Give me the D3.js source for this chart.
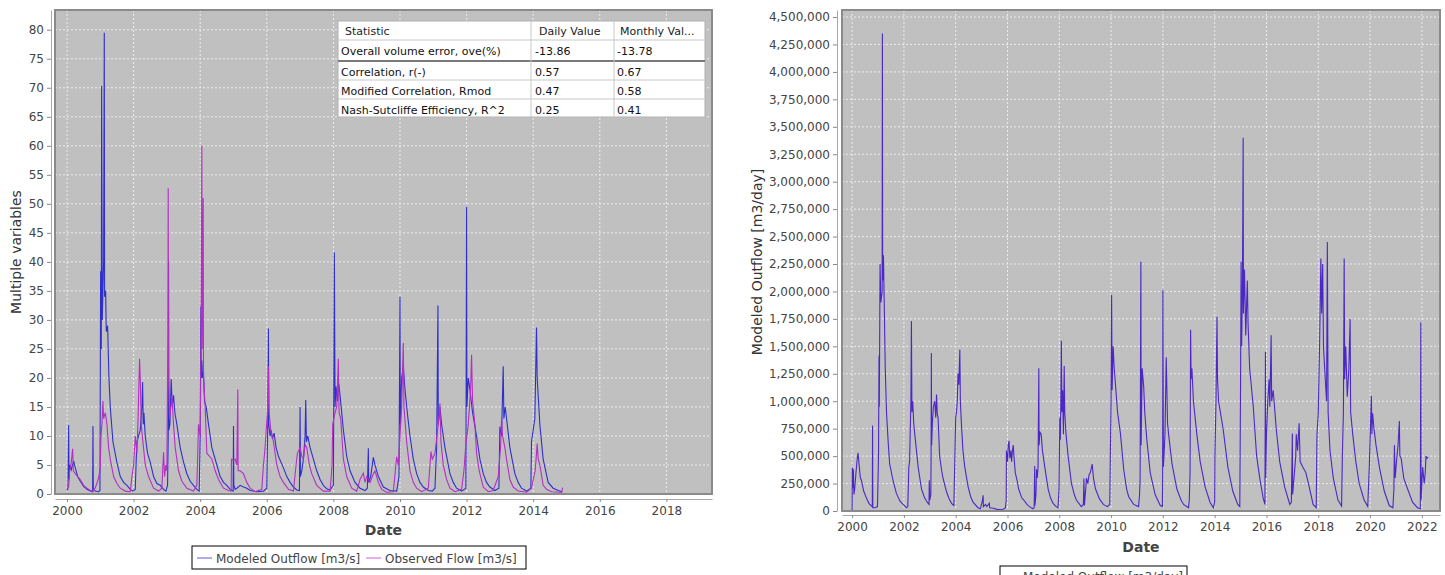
<!DOCTYPE html>
<html><head><meta charset="utf-8">
<script src="https://cdn.jsdelivr.net/npm/d3@7"></script>
<style>
body{margin:0;background:#fff;overflow:hidden}
svg{display:block}
text{font-family:"DejaVu Sans",Verdana,sans-serif}
</style>
</head><body>
<svg id="c" width="1445" height="575"></svg>
<script>
// ---------- DATA ----------
const leftYearTicks = [2000,2002,2004,2006,2008,2010,2012,2014,2016,2018];
const leftValueTicks = [0,5,10,15,20,25,30,35,40,45,50,55,60,65,70,75,80];
const rightYearTicks = [2000,2002,2004,2006,2008,2010,2012,2014,2016,2018,2020,2022];
const rightValueTicks = [0,250000,500000,750000,1000000,1250000,1500000,1750000,2000000,2250000,2500000,2750000,3000000,3250000,3500000,3750000,4000000,4250000,4500000];

// Modeled outflow [m3/s] : [decimal year, value]
const modeledFlow = [
[2000.00,0.6],[2000.03,1.0],[2000.05,11.9],[2000.06,2.5],[2000.09,5.0],[2000.13,4.2],[2000.20,5.7],[2000.25,4.5],[2000.32,3.0],[2000.40,2.2],[2000.50,1.3],[2000.60,0.8],[2000.70,0.5],[2000.77,0.4],[2000.78,11.7],[2000.79,1.0],[2000.85,0.5],[2000.95,0.4],[2000.99,0.6],
[2001.01,38.4],[2001.03,25],[2001.04,70.3],[2001.06,30],[2001.10,40],[2001.12,79.5],[2001.13,34],[2001.16,35],[2001.18,28],[2001.22,29],[2001.26,20],[2001.30,15],[2001.38,9],[2001.50,5.4],[2001.60,3],[2001.70,2],[2001.80,1.5],[2001.90,0.8],[2001.98,0.5],
[2002.05,0.8],[2002.08,6],[2002.10,9],[2002.15,10],[2002.20,11],[2002.25,15],[2002.27,19.3],[2002.29,12],[2002.31,14],[2002.35,10],[2002.42,7],[2002.50,5.5],[2002.60,3],[2002.70,1.8],[2002.80,1.5],[2002.90,0.8],[2002.97,0.5],
[2003.02,1.5],[2003.04,10],[2003.05,40],[2003.06,11],[2003.09,12],[2003.11,16],[2003.13,19.8],[2003.16,15],[2003.20,17],[2003.24,14],[2003.30,12],[2003.40,8],[2003.50,5.5],[2003.60,3.5],[2003.70,2.2],[2003.80,1.5],[2003.90,0.8],[2003.97,0.5],
[2004.00,10],[2004.02,32.3],[2004.03,20],[2004.05,23],[2004.07,20],[2004.10,21],[2004.13,16],[2004.18,15],[2004.25,12],[2004.35,8],[2004.50,5],[2004.60,3],[2004.70,2],[2004.80,1.5],[2004.90,0.8],[2004.99,0.5],
[2005.00,11.7],[2005.01,1.5],[2005.05,0.8],[2005.10,1.0],[2005.20,1.5],[2005.30,1.2],[2005.40,1.0],[2005.50,0.6],[2005.70,0.4],[2005.90,0.5],[2006.00,1],
[2006.03,12],[2006.05,28.5],[2006.06,12],[2006.10,10],[2006.13,11],[2006.17,9.5],[2006.22,10.5],[2006.28,8],[2006.35,6.5],[2006.50,4.5],[2006.60,3],[2006.70,2],[2006.80,1.2],[2006.90,0.7],[2006.98,0.6],
[2007.00,15],[2007.01,3],[2007.05,4],[2007.10,6],[2007.15,10],[2007.17,16.2],[2007.19,9],[2007.23,10],[2007.30,8],[2007.40,6],[2007.50,4],[2007.60,2.5],[2007.70,1.5],[2007.80,0.9],[2007.90,0.7],[2008.00,1.5],
[2008.03,41.6],[2008.05,15],[2008.08,18.5],[2008.12,16],[2008.16,19],[2008.20,17],[2008.30,11],[2008.40,6.5],[2008.50,4],[2008.65,2],[2008.80,1],[2008.95,0.6],
[2009.02,1],[2009.05,7.9],[2009.06,2],[2009.12,3],[2009.20,6.3],[2009.25,5],[2009.35,3],[2009.50,1.2],[2009.70,0.6],[2009.90,0.5],[2009.97,3],
[2010.00,34],[2010.01,12],[2010.05,20],[2010.10,22],[2010.15,18],[2010.22,14],[2010.30,10],[2010.40,6],[2010.50,3.5],[2010.60,2],[2010.70,1.2],[2010.85,0.6],[2010.97,0.5],
[2011.05,1],[2011.10,8],[2011.14,32.5],[2011.15,12],[2011.20,15],[2011.25,12],[2011.35,8],[2011.50,3.5],[2011.60,2],[2011.70,1],[2011.85,0.5],[2011.98,1],
[2012.00,49.5],[2012.01,15],[2012.05,20],[2012.10,18],[2012.18,14],[2012.30,10],[2012.40,6],[2012.50,3.5],[2012.60,2],[2012.70,1.2],[2012.85,0.6],[2012.97,1],
[2013.00,11.6],[2013.05,10],[2013.10,22],[2013.12,13],[2013.16,15],[2013.22,12],[2013.30,8],[2013.45,3.5],[2013.55,2],[2013.65,1],[2013.80,0.5],[2013.93,1],
[2013.95,9],[2014.00,11],[2014.05,13],[2014.10,28.7],[2014.12,20],[2014.15,17],[2014.20,12],[2014.30,6],[2014.45,2],[2014.60,1],[2014.75,0.6],[2014.87,0.4]
];

// Observed flow [m3/s]
const observedFlow = [
[2000.00,1.3],[2000.05,1.2],[2000.08,4],[2000.12,5],[2000.17,7.8],[2000.19,4],[2000.25,3.5],[2000.32,3],[2000.40,2.5],[2000.50,1.5],[2000.60,1],[2000.70,0.6],[2000.80,0.5],[2000.88,1.5],[2000.95,2.8],[2001.00,4.5],
[2001.02,10],[2001.05,12],[2001.08,16],[2001.10,13],[2001.15,14],[2001.20,12],[2001.25,8],[2001.30,6],[2001.40,3],[2001.50,1.8],[2001.60,1],[2001.75,0.5],[2001.90,0.4],[2001.95,3],[2002.00,5],
[2002.05,10],[2002.10,7],[2002.13,12],[2002.18,23.3],[2002.20,20],[2002.23,12],[2002.28,9],[2002.35,5],[2002.45,3],[2002.60,1],[2002.75,0.5],[2002.85,1],[2002.90,7.2],[2002.93,3],[2002.97,5],
[2003.00,4],[2003.03,28],[2003.04,52.7],[2003.05,20],[2003.08,13],[2003.12,15],[2003.15,17],[2003.20,12],[2003.25,8],[2003.35,4],[2003.45,2.2],[2003.60,1],[2003.80,0.5],[2003.90,1.5],[2003.95,12],
[2004.00,10],[2004.03,30],[2004.05,60],[2004.06,25],[2004.09,51],[2004.10,20],[2004.15,15],[2004.20,7],[2004.28,6.5],[2004.35,6],[2004.45,4],[2004.55,2.5],[2004.70,1],[2004.85,0.6],[2004.93,0.5],[2004.94,6],
[2005.00,5.8],[2005.05,6],[2005.10,5],[2005.13,18],[2005.14,4],[2005.20,4],[2005.30,3.5],[2005.40,2],[2005.50,1],[2005.65,0.4],[2005.85,0.8],[2005.90,5],[2005.95,8],
[2006.00,12.5],[2006.03,15],[2006.05,22],[2006.07,14],[2006.12,11],[2006.20,9],[2006.30,5],[2006.40,3],[2006.50,2],[2006.65,0.8],[2006.80,0.5],[2006.88,5],[2006.92,7],
[2007.00,8],[2007.05,6.5],[2007.10,6],[2007.15,8.5],[2007.20,8],[2007.28,5],[2007.35,3.5],[2007.50,1.5],[2007.70,0.5],[2007.90,0.5],[2007.96,5],
[2007.98,12],[2008.05,14],[2008.10,15],[2008.15,23.3],[2008.17,14],[2008.22,13],[2008.30,6],[2008.40,3],[2008.55,1],[2008.70,0.5],[2008.80,2.5],[2008.90,3.6],[2008.95,2],[2009.00,3],
[2009.10,2],[2009.20,3.5],[2009.25,4],[2009.35,2],[2009.45,0.8],[2009.60,0.3],[2009.80,0.4],[2009.90,6.4],[2009.95,5],
[2010.05,15],[2010.10,26],[2010.12,15],[2010.20,9],[2010.30,4],[2010.40,2],[2010.50,1],[2010.65,0.4],[2010.85,1],[2010.93,7.3],[2010.97,6],
[2011.05,7],[2011.15,12],[2011.20,15.6],[2011.23,9],[2011.30,5],[2011.40,2.5],[2011.50,1],[2011.65,0.4],[2011.85,0.8],[2011.92,4],
[2011.97,8],[2012.05,12],[2012.12,18],[2012.15,24],[2012.18,16],[2012.25,12],[2012.30,7],[2012.38,4],[2012.50,1.2],[2012.65,0.4],[2012.80,0.6],[2012.95,3],
[2013.02,8],[2013.05,13],[2013.08,10],[2013.15,8],[2013.20,6],[2013.30,2.5],[2013.40,1.2],[2013.55,0.5],[2013.80,0.3],[2013.95,1],
[2014.02,3],[2014.06,4],[2014.10,7],[2014.12,8.7],[2014.15,6],[2014.20,5],[2014.30,1.5],[2014.40,0.8],[2014.55,0.4],[2014.80,0.3],[2014.86,0.3],[2014.88,1.1]
];

// Modeled outflow [m3/day]
const modeledOutflowDay = [
[2000.00,10000],[2000.01,396000],[2000.03,210000],[2000.05,380000],[2000.07,150000],[2000.10,200000],[2000.15,350000],[2000.20,480000],[2000.23,530000],[2000.27,420000],[2000.32,300000],[2000.36,280000],[2000.45,180000],[2000.55,120000],[2000.65,70000],[2000.75,45000],[2000.78,40000],[2000.79,778000],[2000.80,30000],[2000.90,30000],[2000.98,40000],
[2001.02,500000],[2001.04,1415000],[2001.05,950000],[2001.07,1800000],[2001.08,2250000],[2001.11,1900000],[2001.16,2000000],[2001.17,4350000],[2001.18,2100000],[2001.21,2330000],[2001.24,1900000],[2001.28,1300000],[2001.33,890000],[2001.40,600000],[2001.45,430000],[2001.58,280000],[2001.71,160000],[2001.85,90000],[2001.97,60000],[2002.10,30000],
[2002.15,40000],[2002.19,400000],[2002.22,450000],[2002.27,1000000],[2002.29,1730000],[2002.31,900000],[2002.34,1000000],[2002.38,800000],[2002.42,700000],[2002.55,400000],[2002.68,200000],[2002.80,120000],[2002.90,80000],[2002.97,60000],
[2002.98,280000],[2003.00,100000],[2003.04,150000],[2003.05,500000],[2003.06,1440000],[2003.07,600000],[2003.10,800000],[2003.14,950000],[2003.19,1000000],[2003.23,850000],[2003.26,1060000],[2003.29,880000],[2003.32,850000],[2003.38,500000],[2003.45,380000],[2003.51,300000],[2003.64,180000],[2003.75,110000],[2003.84,70000],[2003.93,50000],
[2003.96,400000],[2004.00,850000],[2004.03,900000],[2004.06,1000000],[2004.09,1250000],[2004.12,1150000],[2004.16,1470000],[2004.18,1000000],[2004.22,800000],[2004.28,550000],[2004.35,400000],[2004.48,220000],[2004.58,130000],[2004.67,80000],[2004.86,30000],
[2004.95,20000],[2005.02,80000],[2005.06,143000],[2005.07,40000],[2005.15,60000],[2005.20,40000],[2005.30,70000],[2005.31,30000],[2005.45,25000],[2005.60,15000],[2005.80,10000],[2005.92,30000],
[2005.95,100000],[2005.96,550000],[2006.00,450000],[2006.03,600000],[2006.06,640000],[2006.09,480000],[2006.13,550000],[2006.16,450000],[2006.19,550000],[2006.22,600000],[2006.25,500000],[2006.30,350000],[2006.37,280000],[2006.43,200000],[2006.55,120000],[2006.63,100000],[2006.75,60000],[2006.85,40000],[2006.98,20000],
[2007.03,30000],[2007.05,410000],[2007.06,50000],[2007.10,150000],[2007.12,380000],[2007.15,300000],[2007.18,400000],[2007.21,1300000],[2007.22,600000],[2007.25,720000],[2007.30,700000],[2007.35,550000],[2007.44,400000],[2007.57,200000],[2007.66,120000],[2007.76,70000],[2007.88,40000],[2007.95,30000],
[2007.99,200000],[2008.02,850000],[2008.04,650000],[2008.06,1000000],[2008.08,1550000],[2008.10,900000],[2008.13,1100000],[2008.16,700000],[2008.19,1320000],[2008.21,900000],[2008.26,700000],[2008.34,500000],[2008.47,250000],[2008.58,150000],[2008.66,100000],[2008.85,40000],[2008.93,60000],
[2008.95,296000],[2008.97,50000],[2009.02,200000],[2009.05,300000],[2009.10,250000],[2009.15,330000],[2009.20,350000],[2009.27,428000],[2009.32,300000],[2009.40,200000],[2009.55,110000],[2009.70,60000],[2009.85,40000],[2009.95,60000],
[2009.97,500000],[2010.00,1000000],[2010.02,1970000],[2010.04,1100000],[2010.08,1500000],[2010.12,1300000],[2010.17,1150000],[2010.25,900000],[2010.36,707000],[2010.49,373000],[2010.60,200000],[2010.68,130000],[2010.87,60000],[2011.06,40000],
[2011.10,150000],[2011.12,300000],[2011.15,2270000],[2011.16,600000],[2011.20,1300000],[2011.26,1130000],[2011.30,900000],[2011.38,650000],[2011.51,350000],[2011.70,150000],[2011.90,50000],[2011.98,40000],
[2011.99,300000],[2012.00,2010000],[2012.02,400000],[2012.08,700000],[2012.13,1400000],[2012.18,800000],[2012.22,700000],[2012.35,434000],[2012.54,200000],[2012.70,100000],[2012.80,60000],[2012.99,30000],
[2013.02,100000],[2013.05,350000],[2013.07,1650000],[2013.09,1200000],[2013.12,1300000],[2013.18,1000000],[2013.31,700000],[2013.44,450000],[2013.63,220000],[2013.82,80000],[2013.95,30000],
[2014.00,80000],[2014.01,500000],[2014.05,1000000],[2014.09,1770000],[2014.11,1200000],[2014.15,1000000],[2014.22,900000],[2014.33,740000],[2014.51,400000],[2014.70,180000],[2014.89,60000],[2014.97,40000],
[2015.00,1200000],[2015.02,2270000],[2015.04,1500000],[2015.07,2000000],[2015.10,3400000],[2015.11,1800000],[2015.15,2200000],[2015.20,1600000],[2015.26,2100000],[2015.29,1700000],[2015.35,1300000],[2015.49,950000],[2015.62,500000],[2015.74,300000],[2015.87,120000],[2015.94,60000],
[2015.96,1450000],[2015.97,300000],[2016.00,700000],[2016.05,1000000],[2016.10,1200000],[2016.13,950000],[2016.18,1600000],[2016.20,1000000],[2016.26,1100000],[2016.38,740000],[2016.51,450000],[2016.70,220000],[2016.90,60000],
[2016.96,80000],[2017.00,707000],[2017.01,150000],[2017.08,350000],[2017.13,500000],[2017.15,700000],[2017.20,550000],[2017.26,800000],[2017.30,450000],[2017.40,400000],[2017.52,350000],[2017.67,200000],[2017.80,60000],[2017.92,30000],
[2017.95,700000],[2018.00,900000],[2018.05,1500000],[2018.10,2300000],[2018.13,1800000],[2018.17,2250000],[2018.20,1500000],[2018.27,1200000],[2018.32,1000000],[2018.35,2450000],[2018.38,900000],[2018.45,555000],[2018.58,300000],[2018.76,100000],[2018.90,45000],
[2018.93,500000],[2018.97,900000],[2019.00,2300000],[2019.02,1200000],[2019.06,1500000],[2019.12,1040000],[2019.18,1300000],[2019.23,1750000],[2019.25,900000],[2019.33,700000],[2019.45,450000],[2019.58,250000],[2019.77,100000],[2019.91,40000],
[2019.97,400000],[2020.02,800000],[2020.05,1050000],[2020.07,700000],[2020.10,890000],[2020.15,750000],[2020.23,600000],[2020.36,400000],[2020.55,180000],[2020.74,50000],[2020.88,30000],
[2020.92,200000],[2020.94,600000],[2020.97,300000],[2021.02,450000],[2021.08,600000],[2021.13,820000],[2021.15,500000],[2021.20,480000],[2021.30,300000],[2021.45,200000],[2021.64,80000],[2021.83,30000],[2021.94,20000],
[2021.96,1720000],[2021.97,100000],[2022.03,400000],[2022.09,250000],[2022.13,350000],[2022.16,500000],[2022.20,480000],[2022.24,490000]
];

const statHeader = ["Statistic","Daily Value","Monthly Val..."];
const statNames = ["Overall volume error, ove(%)","Correlation, r(-)","Modified Correlation, Rmod","Nash-Sutcliffe Efficiency, R^2"];
const statDaily = ["-13.86","0.57","0.47","0.25"];
const statMonthly = ["-13.78","0.67","0.58","0.41"];

const leftSeriesNames = ["Modeled Outflow [m3/s]","Observed Flow [m3/s]"];
const rightSeriesNames = ["Modeled Outflow [m3/day]"];

// ---------- DRAW ----------
const svg = d3.select("#c");
const BLUE = "#2f2fcc", MAGENTA = "#b52fc4", PURPLE = "#4b28c6";

function panel(o){
  const g = svg.append("g");
  const x = d3.scaleLinear().domain(o.xDom).range([o.x0,o.x1]);
  const y = d3.scaleLinear().domain(o.yDom).range([o.y1,o.y0]);
  g.append("rect").attr("x",o.x0).attr("y",o.y0).attr("width",o.x1-o.x0).attr("height",o.y1-o.y0)
    .attr("fill","#c0c0c0");
  // grid
  g.selectAll(".gx").data(o.xTicks).join("line")
    .attr("x1",d=>x(d)).attr("x2",d=>x(d)).attr("y1",o.y0).attr("y2",o.y1)
    .attr("stroke","#ececec").attr("stroke-dasharray","2,2").attr("stroke-width",1);
  g.selectAll(".gy").data(o.yTicks).join("line")
    .attr("y1",d=>y(d)).attr("y2",d=>y(d)).attr("x1",o.x0).attr("x2",o.x1)
    .attr("stroke","#ececec").attr("stroke-dasharray","2,2").attr("stroke-width",1);
  const cid = "clip"+o.id;
  svg.append("clipPath").attr("id",cid).append("rect")
    .attr("x",o.x0).attr("y",o.y0).attr("width",o.x1-o.x0).attr("height",o.y1-o.y0);
  const line = d3.line().x(d=>x(d[0])).y(d=>y(d[1]));
  o.series.forEach(s=>{
    g.append("path").attr("d",line(s.data)).attr("fill","none")
      .attr("stroke",s.color).attr("stroke-width",1.1).attr("clip-path",`url(#${cid})`);
  });
  g.append("rect").attr("x",o.x0).attr("y",o.y0).attr("width",o.x1-o.x0).attr("height",o.y1-o.y0)
    .attr("fill","none").attr("stroke","#8a8a8a").attr("stroke-width",2);
  // axes
  const ya = g.append("g").attr("transform",`translate(${o.yAxisX},0)`)
    .call(d3.axisLeft(y).tickValues(o.yTicks).tickSizeInner(4).tickSizeOuter(0).tickPadding(3).tickFormat(o.yFmt));
  const xa = g.append("g").attr("transform",`translate(0,${o.xAxisY})`)
    .call(d3.axisBottom(x).tickValues(o.xTicks).tickSizeInner(3).tickSizeOuter(0).tickPadding(4).tickFormat(d3.format("d")));
  [ya,xa].forEach(a=>{
    a.select(".domain").attr("stroke","#a8a8a8");
    a.selectAll(".tick line").attr("stroke","#888");
    a.selectAll("text").attr("fill","#444").style("font-size","12px").style("font-family","'DejaVu Sans',sans-serif");
  });
  g.append("text").attr("x",(o.x0+o.x1)/2).attr("y",o.dateY).attr("text-anchor","middle")
    .style("font-size","14px").style("font-weight","bold").attr("fill","#444").text("Date");
  g.append("text").attr("transform",`translate(${o.yTitleX},${o.yTitleY}) rotate(-90)`)
    .attr("text-anchor","middle").style("font-size","14px").attr("fill","#333").text(o.yTitle);
  return {x,y};
}

panel({id:"L", x0:55, x1:712, y0:10, y1:494, xDom:[1999.64,2019.37], yDom:[0,83.4],
  xTicks:leftYearTicks, yTicks:leftValueTicks, yFmt:d3.format("d"),
  yAxisX:51, xAxisY:499, dateY:535, yTitleX:21, yTitleY:252, yTitle:"Multiple variables",
  series:[{data:modeledFlow,color:BLUE},{data:observedFlow,color:MAGENTA}]});

panel({id:"R", x0:842, x1:1440, y0:10, y1:511, xDom:[1999.61,2022.7], yDom:[0,4564000],
  xTicks:rightYearTicks, yTicks:rightValueTicks, yFmt:d3.format(","),
  yAxisX:837, xAxisY:515, dateY:552, yTitleX:762, yTitleY:262, yTitle:"Modeled Outflow [m3/day]",
  series:[{data:modeledOutflowDay,color:PURPLE}]});

// ---------- statistics table ----------
const tb = svg.append("g");
const tX = [338,531,614,705], rowY = [21,40,61,80,99,117];
tb.append("rect").attr("x",tX[0]).attr("y",rowY[0]).attr("width",tX[3]-tX[0]).attr("height",rowY[5]-rowY[0])
  .attr("fill","#fff").attr("stroke","#b0b0b0");
rowY.slice(1,5).forEach((yy,i)=>{
  tb.append("line").attr("x1",tX[0]).attr("x2",tX[3]).attr("y1",yy).attr("y2",yy)
    .attr("stroke", i===1 ? "#7a7a7a" : "#c8c8c8").attr("stroke-width", i===1 ? 2 : 1);
});
[tX[1],tX[2]].forEach(xx=>{
  tb.append("line").attr("x1",xx).attr("x2",xx).attr("y1",rowY[0]).attr("y2",rowY[5])
    .attr("stroke","#c8c8c8");
});
const hx = [345,539,620];
statHeader.forEach((t,i)=>tb.append("text").attr("x",hx[i]).attr("y",35).style("font-size","11px").attr("fill","#222").text(t));
statNames.forEach((t,i)=>{
  const by = rowY[i+1]+14.5;
  tb.append("text").attr("x",341).attr("y",by).style("font-size","11px").attr("fill","#111").text(t);
  tb.append("text").attr("x",535).attr("y",by).style("font-size","11px").attr("fill","#111").text(statDaily[i]);
  tb.append("text").attr("x",617).attr("y",by).style("font-size","11px").attr("fill","#111").text(statMonthly[i]);
});

// ---------- legends ----------
const lg = svg.append("g");
lg.append("rect").attr("x",192).attr("y",546).attr("width",334).attr("height",23).attr("fill","#fff").attr("stroke","#000");
const legL = [{x:197,c:"#5a5ad8"},{x:366,c:"#d060d8"}];
leftSeriesNames.forEach((n,i)=>{
  lg.append("line").attr("x1",legL[i].x).attr("x2",legL[i].x+15).attr("y1",558).attr("y2",558).attr("stroke",legL[i].c);
  lg.append("text").attr("x",legL[i].x+19).attr("y",562.5).style("font-size","12px").attr("fill","#444").text(n);
});
lg.append("rect").attr("x",1000).attr("y",566).attr("width",187).attr("height",22).attr("fill","#fff").attr("stroke","#000");
rightSeriesNames.forEach(n=>{
  lg.append("line").attr("x1",1005).attr("x2",1020).attr("y1",578).attr("y2",578).attr("stroke",PURPLE);
  lg.append("text").attr("x",1023).attr("y",581).style("font-size","12px").attr("fill","#444").text(n);
});
</script>
</body></html>
